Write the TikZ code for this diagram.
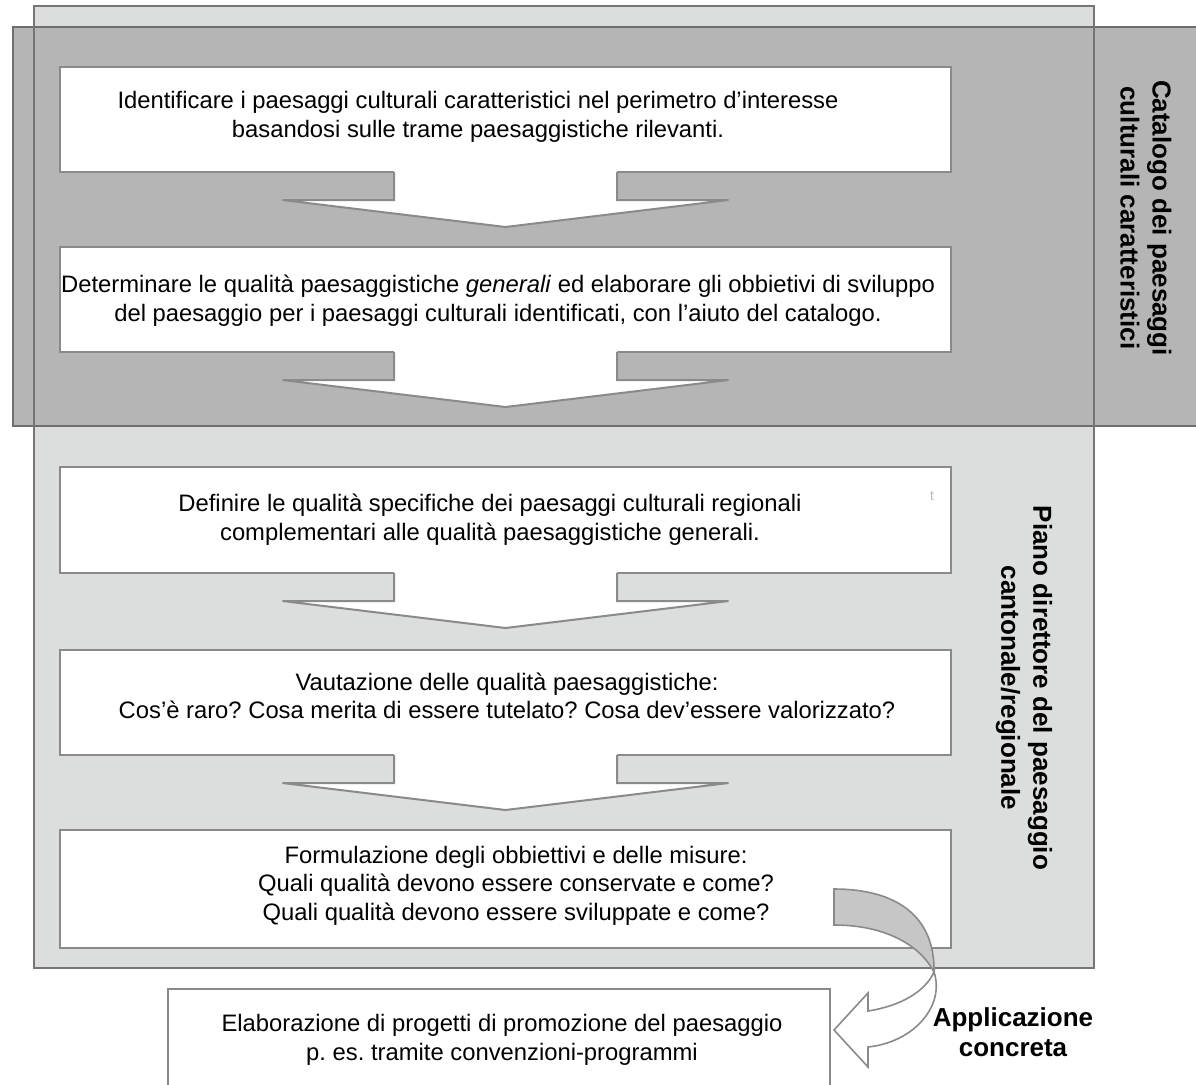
\documentclass[tikz,border=0pt]{standalone}
\usepackage{fontspec}
\setmainfont{Liberation Sans}
\usetikzlibrary{calc}
\definecolor{lightfill}{HTML}{DCDDDD}
\definecolor{darkfill}{HTML}{B5B5B5}
\definecolor{bandfill}{HTML}{C6C6C6}
\definecolor{lineg}{HTML}{8A8A8A}
\definecolor{darkline}{HTML}{6E6E6E}
\newcommand\flowarrow[1]{%
  \fill[white] ($(#1.south)+(-111.5,-3)$) -- ($(#1.south)+(-111.5,28)$) -- ($(#1.south)+(-223,28)$) -- ($(#1.south)+(0,55)$) -- ($(#1.south)+(223,28)$) -- ($(#1.south)+(111.5,28)$) -- ($(#1.south)+(111.5,-3)$) -- cycle;
  \draw[arrowline] ($(#1.south)+(-111.5,0)$) -- ($(#1.south)+(-111.5,28)$) -- ($(#1.south)+(-223,28)$) -- ($(#1.south)+(0,55)$) -- ($(#1.south)+(223,28)$) -- ($(#1.south)+(111.5,28)$) -- ($(#1.south)+(111.5,0)$);
}
\begin{document}
\frenchspacing
\begin{tikzpicture}[x=1pt,y=-1pt,
  stepbox/.style={draw=lineg, line width=2pt, fill=white, rectangle, outer sep=0pt, inner sep=0pt, minimum width=891pt, minimum height=105pt, anchor=north west},
  arrowline/.style={draw=lineg, line width=2pt, line join=miter},
  boxtext/.style={font=\fontsize{23.8}{28.5}\selectfont, align=center, inner sep=0pt, text=black},
  sidelabel/.style={font=\bfseries\fontsize{26}{32}\selectfont, align=center, inner sep=0pt, rotate=-90},
  panel/.style={rectangle, outer sep=0pt, inner sep=0pt, anchor=north west},
]
\useasboundingbox (0,0) rectangle (1196,1084);
\clip (0,0) rectangle (1196,1084);
% containers
\node[panel, fill=lightfill, minimum width=1060pt, minimum height=962pt] (piano) at (34,6) {};
\node[panel, fill=darkfill, draw=darkline, line width=2pt, minimum width=1197pt, minimum height=399pt] (catal) at (13,27) {};
\draw[lineg!85!black, line width=2pt] (piano.north west) rectangle (piano.south east);
% boxes
\node[stepbox] (b1) at (60,67) {};
\node[stepbox] (b2) at (60,247) {};
\node[stepbox, minimum height=106pt] (b3) at (60,467) {};
\node[stepbox] (b4) at (60,650) {};
\node[stepbox, minimum height=118pt] (b5) at (60,830) {};
\node[stepbox, minimum width=662pt, minimum height=130pt] (b6) at (168,989) {};
\flowarrow{b1}
\flowarrow{b2}
\flowarrow{b3}
\flowarrow{b4}
% texts
\node[boxtext] (t1) at (478,117) {Identificare i paesaggi culturali caratteristici nel perimetro d’interesse\\basandosi sulle trame paesaggistiche rilevanti.};
\node[boxtext] (t2) at (498,300.5) {Determinare le qualità paesaggistiche \textit{generali} ed elaborare gli obbietivi di sviluppo\\del paesaggio per i paesaggi culturali identificati, con l’aiuto del catalogo.};
\node[boxtext] (t3) at (490,519.5) {Definire le qualità specifiche dei paesaggi culturali regionali\\complementari alle qualità paesaggistiche generali.};
\node[inner sep=0pt, font=\fontsize{14}{14}\selectfont, text=gray!55] (tt) at (932,496) {t};
\node[boxtext] (t4) at (507,696) {Vautazione delle qualità paesaggistiche:\\Cos’è raro? Cosa merita di essere tutelato? Cosa dev’essere valorizzato?};
\node[boxtext] (t5) at (516,885.5) {Formulazione degli obbiettivi e delle misure:\\Quali qualità devono essere conservate e come?\\Quali qualità devono essere sviluppate e come?};
\node[boxtext] (t6) at (502,1040) {Elaborazione di progetti di promozione del paesaggio\\p. es. tramite convenzioni-programmi};
% side labels
\node[sidelabel] (lcat) at (1146,218) {Catalogo dei paesaggi\\culturali caratteristici};
\node[sidelabel] (lpia) at (1024,688) {Piano direttore del paesaggio\\cantonale/regionale};
\node[font=\bfseries\fontsize{26}{30}\selectfont, align=center, inner sep=0pt] (appl) at (1013,1032.5) {Applicazione\\concreta};
% curved arrow
\coordinate (cs1) at (834,889);
\coordinate (cs2) at (834,925);
\coordinate (tw) at (934,972);
\coordinate (ib1) at (868,1011);
\coordinate (ob1) at (868,993);
\coordinate (tip) at (834,1030);
\coordinate (ob2) at (868,1067);
\coordinate (ib2) at (868,1047);
\filldraw[fill=white, draw=lineg, line width=1.6pt, line join=miter] (tw) .. controls (925,992) and (900,1006) .. (ib1) -- (ob1) -- (tip) -- (ob2) -- (ib2) .. controls (915,1042) and (945,1005) .. (tw) -- cycle;
\filldraw[fill=bandfill, draw=lineg, line width=1.6pt] (cs1) .. controls (895,889) and (935,915) .. (tw) .. controls (920,945) and (885,925) .. (cs2) -- cycle;
\end{tikzpicture}
\end{document}
